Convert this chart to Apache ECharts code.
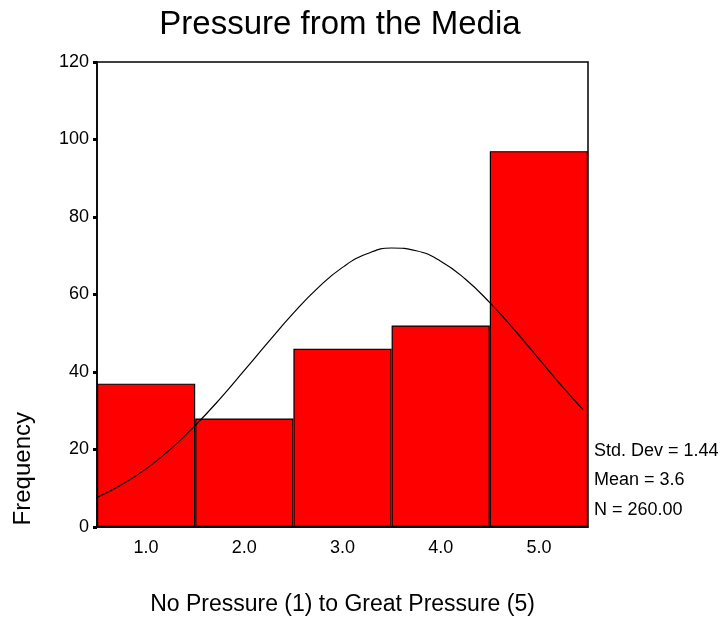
<!DOCTYPE html>
<html><head><meta charset="utf-8">
<script src="https://cdn.jsdelivr.net/npm/echarts@6/dist/echarts.min.js"></script>
<style>html,body{margin:0;padding:0;background:#fff}#c{width:722px;height:622px}</style>
</head><body><div id="c"></div>
<script>
const categories = ['1.0','2.0','3.0','4.0','5.0'];
const frequencies = [37, 28, 46, 52, 97];
const curveX = [0.5,0.75,1.0,1.25,1.5,1.75,2.0,2.25,2.5,2.75,3.0,3.25,3.5,3.75,4.0,4.25,4.5,4.75,5.0,5.25,5.45];
const curveY = [7.6,10.9,15.0,20.1,26.2,33.0,40.4,47.9,55.2,61.7,67.0,70.5,72.0,71.3,68.6,64.0,57.9,50.9,43.4,35.9,30.3];
const statsLines = ['Std. Dev = 1.44','Mean = 3.6','N = 260.00'];
const yTicks = {min:0, max:120, interval:20};

const font = 'Liberation Sans, Arial, sans-serif';
const chart = echarts.init(document.getElementById('c'), null, {renderer:'canvas'});
chart.setOption({
  animation:false,
  backgroundColor:'#fff',
  grid:{left:97, right:134, top:62, bottom:95, show:true, borderColor:'#000', borderWidth:1.5, backgroundColor:'transparent'},
  xAxis:[
    {type:'category', data:categories, boundaryGap:true,
      axisLine:{lineStyle:{color:'#000', width:1.5}},
      axisTick:{alignWithLabel:true, length:4, lineStyle:{color:'#000', width:3}},
      axisLabel:{fontFamily:font, fontSize:18, color:'#000', margin:12},
      name:'No Pressure (1) to Great Pressure (5)', nameLocation:'middle', nameGap:66,
      nameTextStyle:{fontFamily:font, fontSize:23, color:'#000'}},
    {type:'value', min:0.5, max:5.5, show:false}
  ],
  yAxis:{type:'value', min:yTicks.min, max:yTicks.max, interval:yTicks.interval,
    axisLine:{show:true, lineStyle:{color:'#000', width:1.5}},
    axisTick:{show:true, length:4, lineStyle:{color:'#000', width:3}},
    splitLine:{show:false},
    axisLabel:{fontFamily:font, fontSize:18, color:'#000', margin:8}},
  series:[
    {type:'bar', xAxisIndex:0, data:frequencies, barCategoryGap:'0%',
      itemStyle:{color:'#ff0000', borderColor:'#000', borderWidth:1.2}},
    {type:'line', xAxisIndex:1, data:curveX.map((x,i)=>[x,curveY[i]]), smooth:true,
      symbol:'none', lineStyle:{color:'#000', width:1.2}}
  ],
  graphic:[
    {type:'text', x:340, y:8,
      style:{text:'Pressure from the Media', font:'33px '+font, fill:'#000', align:'center', verticalAlign:'top'}},
    {type:'text', left:11, top:412, rotation:Math.PI/2,
      style:{text:'Frequency', font:'24px '+font, fill:'#000'}},
    {type:'group', left:594, top:442, children: statsLines.map((t,i)=>({
      type:'text', x:0, y:i*29.5, style:{text:t, font:'18px '+font, fill:'#000'}}))}
  ]
});
</script></body></html>
